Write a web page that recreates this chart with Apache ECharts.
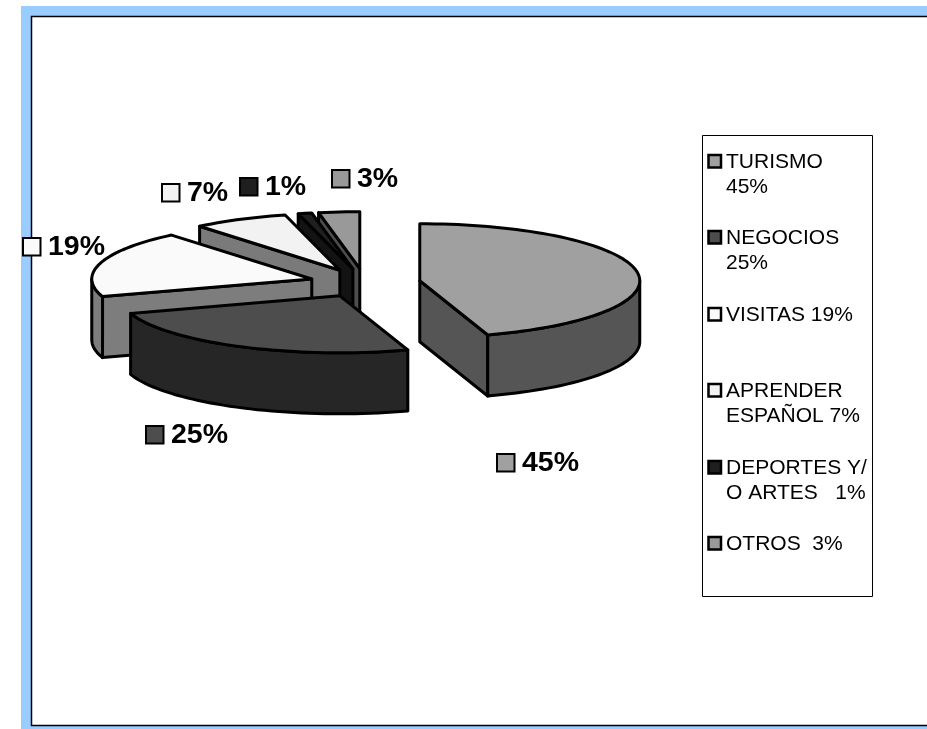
<!DOCTYPE html>
<html><head><meta charset="utf-8">
<style>html,body{margin:0;padding:0;background:#fff}#c{width:927px;height:729px}</style>
<script src="https://cdn.jsdelivr.net/npm/echarts@6/dist/echarts.min.js"></script>
</head><body><div id="c"></div>
<script>
const categories = ['TURISMO','NEGOCIOS','VISITAS','APRENDER ESPAÑOL','DEPORTES Y/ O ARTES','OTROS'];
const values = [45,25,19,7,1,3];
const legendLines = [['TURISMO','45%'],['NEGOCIOS','25%'],['VISITAS 19%'],['APRENDER','ESPAÑOL 7%'],['DEPORTES Y/','O ARTES   1%'],['OTROS  3%']];
const topColors = ['#a0a0a0','#4d4d4d','#fafafa','#f2f2f2','#1f1f1f','#999999'];
const sideColors = ['#555555','#262626','#7d7d7d','#7a7a7a','#131313','#4d4d4d'];
const drawOrder = [5,4,3,2,1,0];
const labelAnchors = [[496,463],[145,435],[22,247],[161,193],[239,187],[331,179]];
const legendRows = [162,238,315,391,468,544];

const PIE = {cx:365, cy:283, rx:220, ry:57, h:61, explode:0.252};
const total = values.reduce((a,b)=>a+b,0);
const rad = d => d*Math.PI/180;
const FONT = '"Liberation Sans", Arial, sans-serif';

function renderSlice(i){
  return function(params, api){
    const v = api.value(0);
    let before = 0; for(let k=0;k<i;k++) before += values[k];
    const a = before/total*360, b = (before+v)/total*360, mid = (a+b)/2;
    const ax = PIE.cx + PIE.explode*PIE.rx*Math.sin(rad(mid));
    const ay = PIE.cy - PIE.explode*PIE.ry*Math.cos(rad(mid));
    const pt = (t,dy=0)=>[ax+PIE.rx*Math.sin(rad(t)), ay-PIE.ry*Math.cos(rad(t))+dy];
    const arc = (s,e,dy=0)=>{const n=Math.max(2,Math.ceil((e-s)/2)),r=[];for(let j=0;j<=n;j++)r.push(pt(s+(e-s)*j/n,dy));return r;};
    const style = fill=>({fill,stroke:'#000',lineWidth:3,lineJoin:'round'});
    const ch = [];
    const wall = t=>({type:'polygon',shape:{points:[[ax,ay],pt(t),pt(t,PIE.h),[ax,ay+PIE.h]]},style:style(sideColors[i])});
    if(Math.sin(rad(a))<-1e-9) ch.push(wall(a));
    if(Math.sin(rad(b))>1e-9) ch.push(wall(b));
    const s=Math.max(a,90), e=Math.min(b,270);
    if(e>s){
      ch.push({type:'polygon',shape:{points:arc(s,e).concat(arc(s,e,PIE.h).reverse())},style:style(sideColors[i])});
    }
    ch.push({type:'polygon',shape:{points:[[ax,ay]].concat(arc(a,b))},style:style(topColors[i])});
    return {type:'group',children:ch};
  };
}

const series = categories.map((name,i)=>({
  type:'custom', name, coordinateSystem:'none', silent:true,
  z: 10+drawOrder[i],
  data:[values[i]], renderItem: renderSlice(i)
}));

const keySq = (x,y,size,fill,lw)=>({type:'rect',shape:{x,y,width:size,height:size},style:{fill,stroke:'#000',lineWidth:lw},z:50});
const g = [
  {type:'rect',shape:{x:21,y:6,width:906,height:723},style:{fill:'#99ccff'},z:0},
  {type:'rect',shape:{x:32,y:17,width:895,height:708},style:{fill:'#fff'},z:1},
  {type:'polyline',shape:{points:[[927,16.5],[31.5,16.5],[31.5,725.5],[927,725.5]]},style:{fill:null,stroke:'#000',lineWidth:1.5},z:2},
  {type:'rect',shape:{x:702.5,y:135.5,width:170,height:461},style:{fill:'#fff',stroke:'#000',lineWidth:1},z:3}
];
labelAnchors.forEach((p,i)=>{
  g.push(keySq(p[0]+1,p[1]-9,17.5,topColors[i],2));
  g.push({type:'text',x:p[0]+26,y:p[1],z:50,style:{text:values[i]+'%',font:'bold 28.5px '+FONT,fill:'#000',textVerticalAlign:'middle'}});
});
legendRows.forEach((y,i)=>{
  g.push(keySq(708.5,y-7,12.5,topColors[i],2.5));
  legendLines[i].forEach((t,j)=>{
    g.push({type:'text',x:726,y:y+j*25.5,z:50,style:{text:t,font:'21px '+FONT,fill:'#000',textVerticalAlign:'middle'}});
  });
});

const chart = echarts.init(document.getElementById('c'),null,{renderer:'canvas'});
chart.setOption({animation:false,backgroundColor:'#fff',graphic:{elements:g},series});
</script></body></html>
